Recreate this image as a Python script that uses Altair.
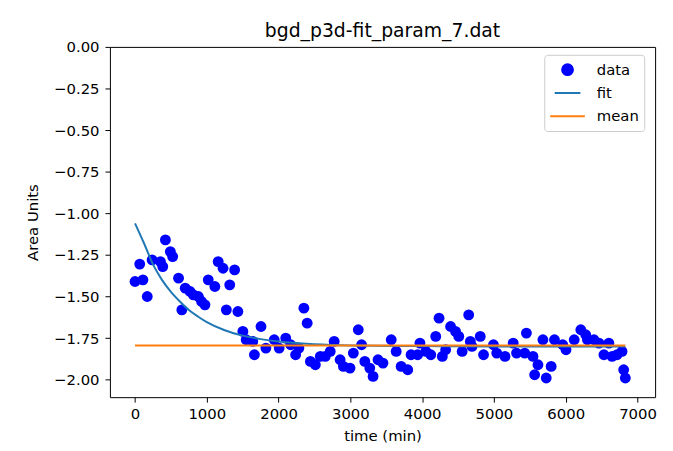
import altair as alt
import pandas as pd

# ---- data ----
time_min = [0, 65, 110, 170, 238, 354, 386, 423, 492, 524, 606, 652, 699, 767, 813,
            882, 927, 974, 1020, 1112, 1158, 1226, 1272, 1319, 1387, 1433, 1502, 1548,
            1640, 1663, 1755, 1823, 1939, 2008, 2099, 2168, 2237, 2283, 2352, 2398,
            2443, 2512, 2581, 2650, 2719, 2774, 2857, 2903, 2995, 3041, 3110, 3156,
            3201, 3270, 3316, 3385, 3454, 3569, 3638, 3707, 3799, 3845, 3937, 3969,
            4051, 4120, 4189, 4235, 4281, 4327, 4396, 4465, 4510, 4557, 4648, 4671,
            4694, 4809, 4855, 4993, 5039, 5154, 5268, 5315, 5429, 5452, 5544, 5567,
            5613, 5682, 5728, 5797, 5843, 5958, 6004, 6118, 6210, 6279, 6302, 6394,
            6463, 6532, 6601, 6646, 6715, 6784, 6807, 6830]
area = [-1.41, -1.305, -1.40, -1.50, -1.28, -1.29, -1.32, -1.16, -1.23, -1.26, -1.39,
        -1.58, -1.45, -1.47, -1.49, -1.50, -1.53, -1.55, -1.40, -1.44, -1.29, -1.33,
        -1.58, -1.43, -1.34, -1.59, -1.71, -1.76, -1.77, -1.85, -1.68, -1.81, -1.76,
        -1.81, -1.75, -1.79, -1.85, -1.81, -1.57, -1.66, -1.89, -1.91, -1.86, -1.86,
        -1.83, -1.77, -1.88, -1.92, -1.93, -1.84, -1.70, -1.79, -1.89, -1.93, -1.98,
        -1.88, -1.90, -1.76, -1.83, -1.92, -1.94, -1.85, -1.85, -1.78, -1.83, -1.85,
        -1.74, -1.63, -1.86, -1.82, -1.68, -1.71, -1.74, -1.83, -1.61, -1.77, -1.80,
        -1.74, -1.85, -1.79, -1.84, -1.86, -1.78, -1.84, -1.84, -1.72, -1.86, -1.97,
        -1.91, -1.76, -1.99, -1.92, -1.76, -1.79, -1.82, -1.76, -1.70, -1.73, -1.76,
        -1.76, -1.78, -1.85, -1.78, -1.86, -1.85, -1.83, -1.94, -1.99]

fit_time = [0, 125, 250, 375, 500, 625, 750, 875, 1000, 1250, 1500, 1750, 2000,
            2500, 3000, 4000, 5000, 6000, 6830]
fit_value = [-1.06, -1.18, -1.307, -1.40, -1.472, -1.53, -1.581, -1.62, -1.654,
             -1.703, -1.735, -1.756, -1.771, -1.787, -1.794, -1.798, -1.80, -1.80, -1.80]

mean_time = [0, 6830]
mean_value = [-1.795, -1.795]

series_names = ["data", "fit", "mean"]
series_colors = ["#0000ff", "#1f77b4", "#ff7f0e"]
series_shapes = ["circle", "stroke", "stroke"]
legend_sizes = [120, 1225, 1225]

x_ticks = [0, 1000, 2000, 3000, 4000, 5000, 6000, 7000]
y_ticks = [0.0, -0.25, -0.5, -0.75, -1.0, -1.25, -1.5, -1.75, -2.0]

# ---- tables ----
pts = pd.DataFrame({"time": time_min, "value": area, "series": "data"})
fit = pd.DataFrame({"time": fit_time, "value": fit_value, "series": "fit"})
mean = pd.DataFrame({"time": mean_time, "value": mean_value, "series": "mean"})

FONT = "DejaVu Sans"

x_enc = alt.X("time:Q",
              scale=alt.Scale(domain=[-350, 7245], nice=False, zero=False),
              axis=alt.Axis(values=x_ticks, format="d", title="time (min)", grid=False,
                            tickSize=5, labelPadding=5, domain=False,
                            titleX=275.5, titleY=39, titleBaseline="middle",
                            titleAlign="center"))
y_enc = alt.Y("value:Q",
              scale=alt.Scale(domain=[-2.105, 0], nice=False, zero=False),
              axis=alt.Axis(values=y_ticks, format=".2f", title="Area Units", grid=False,
                            labelExpr="replace(datum.label, '-', '\u2212')",
                            tickSize=5, labelPadding=6, domain=False,
                            titleX=-78, titleY=177, titleAngle=270,
                            titleAlign="center", titleBaseline="middle"))

color_scale = alt.Scale(domain=series_names, range=series_colors)
shape_scale = alt.Scale(domain=series_names, range=series_shapes)
size_scale = alt.Scale(domain=series_names, range=legend_sizes)

legend = alt.Legend(title=None, orient="none", legendX=439, legendY=8,
                    strokeColor="#cccccc", cornerRadius=3, padding=5,
                    fillColor="white", labelFontSize=15, labelFont=FONT,
                    labelColor="black", symbolStrokeWidth=2, rowPadding=3.5,
                    clipHeight=20, labelOffset=11, symbolOpacity=1)

points = alt.Chart(pts).mark_point(filled=True, opacity=1).encode(
    x=x_enc, y=y_enc,
    color=alt.Color("series:N", scale=color_scale, legend=legend),
    shape=alt.Shape("series:N", scale=shape_scale, legend=legend),
    size=alt.Size("series:N", scale=size_scale, legend=legend),
)
fit_line = alt.Chart(fit).mark_line(strokeWidth=2, interpolate="monotone").encode(
    x="time:Q", y="value:Q",
    color=alt.Color("series:N", scale=color_scale, legend=legend),
)
mean_line = alt.Chart(mean).mark_line(strokeWidth=2).encode(
    x="time:Q", y="value:Q",
    color=alt.Color("series:N", scale=color_scale, legend=legend),
)

chart = alt.layer(points, fit_line, mean_line).properties(
    width=551, height=354,
    title=alt.Title("bgd_p3d-fit_param_7.dat", fontSize=19, font=FONT,
                    fontWeight="normal", color="black", offset=8, dy=9,
                    frame="group"),
    autosize=alt.AutoSizeParams(type="none"),
    padding={"left": 103, "top": 37, "right": 10, "bottom": 45},
).configure_view(stroke="black", strokeWidth=1).configure_axis(
    labelFont=FONT, labelFontSize=15, labelColor="black",
    titleFont=FONT, titleFontSize=15, titleColor="black", titleFontWeight="normal",
    tickColor="black",
)

chart.save("out.html", embed_options={"renderer": "svg", "actions": False})
